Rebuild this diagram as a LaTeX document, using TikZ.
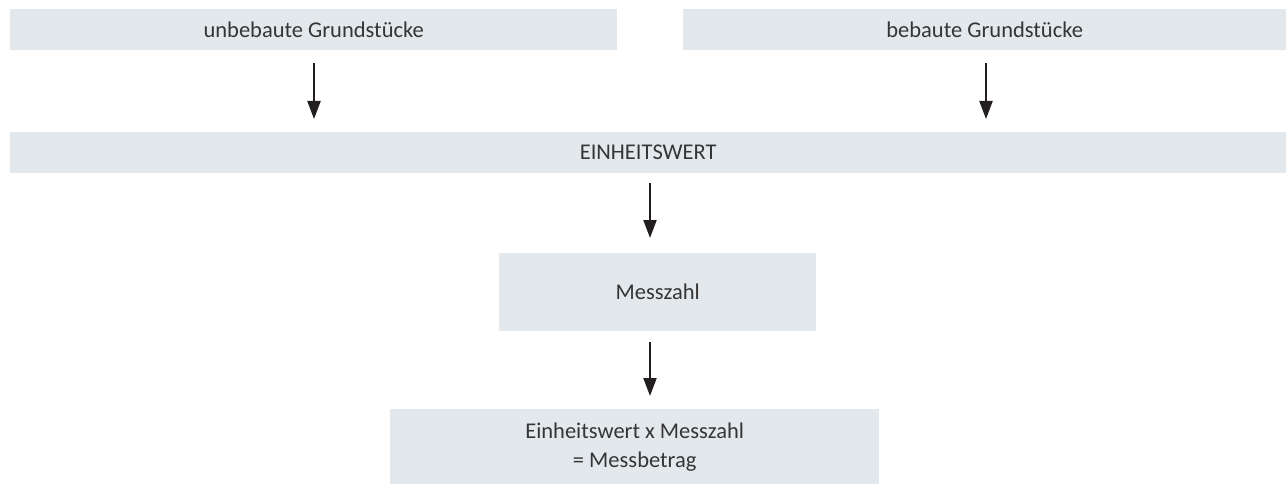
\documentclass[tikz,border=0pt]{standalone}
\usepackage{fontspec}
\setmainfont{Carlito}
\usetikzlibrary{arrows.meta}
\definecolor{boxfill}{HTML}{E3E8EC}
\definecolor{ink}{HTML}{353535}
\definecolor{arrowink}{HTML}{231F20}
\begin{document}
\begin{tikzpicture}[x=1pt,y=-1pt,
  box/.style={fill=boxfill, draw=none, inner sep=0pt, anchor=north west,
    text=ink, align=center, font=\fontsize{22.5}{29}\selectfont},
  arr/.style={draw=arrowink, line width=2.2pt,
    -{Triangle[width=13pt,length=18pt]}}]
  \useasboundingbox (0,0) rectangle (1286,484);

  % boxes
  \node[box, minimum width=607pt, minimum height=41pt] (ub) at (10,9) {unbebaute Grundstücke};
  \node[box, minimum width=603pt, minimum height=41pt] (bb) at (683,9) {bebaute Grundstücke};
  \node[box, minimum width=1276pt, minimum height=41pt] (ew) at (10,132) {EINHEITSWERT};
  \node[box, minimum width=317pt, minimum height=78pt] (mz) at (499,253) {Messzahl};
  \node[box, minimum width=489pt, minimum height=75pt] (mb) at (390,409) {Einheitswert x Messzahl\\= Messbetrag};

  % vertical axis of the lower arrows
  \coordinate (axis) at (650,0);
  \coordinate (lax) at (314,0);
  \coordinate (rax) at (986,0);

  % arrows
  \draw[arr] ([yshift=-13pt]lax |- ub.south) -- ([yshift=13pt]lax |- ew.north);
  \draw[arr] ([yshift=-13pt]rax |- bb.south) -- ([yshift=13pt]rax |- ew.north);
  \draw[arr] ([yshift=-10pt]axis |- ew.south) -- ([yshift=15pt]axis |- mz.north);
  \draw[arr] ([yshift=-11pt]axis |- mz.south) -- ([yshift=13pt]axis |- mb.north);
\end{tikzpicture}
\end{document}
